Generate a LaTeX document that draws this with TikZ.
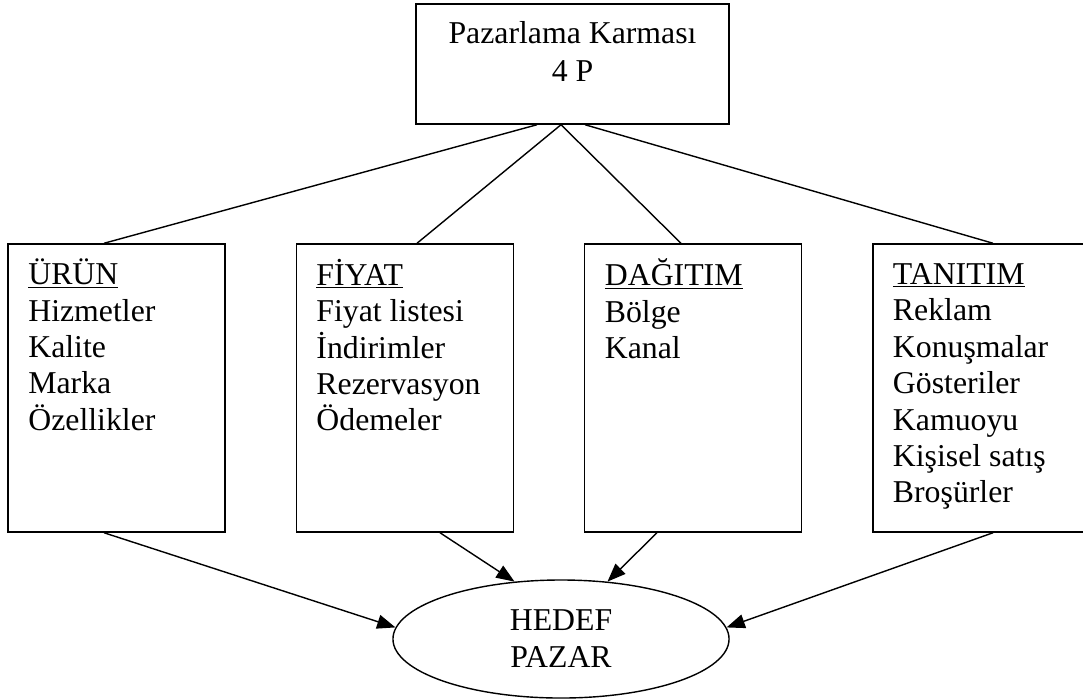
\documentclass[tikz,border=0pt]{standalone}
\usepackage{fontspec}
\setmainfont{Liberation Serif}
\usetikzlibrary{arrows.meta, shapes.geometric}

\begin{document}
\begin{tikzpicture}[x=0.025cm, y=-0.025cm,
      b/.style={draw, line width=1pt, minimum width=5.425cm, minimum height=7.2cm, inner sep=0pt},
      lst/.style={anchor=north west, align=left, inner sep=0pt, font=\fontsize{22.6}{25.9}\selectfont},
      ln/.style={line width=1pt},
      ar/.style={ln, -{Triangle[length=13pt, width=10pt]}}
    ]
    \useasboundingbox (0,0) rectangle (1083,699);

    % ust kutu
    \node[draw, line width=1pt, minimum width=7.825cm, minimum height=3cm, inner sep=0pt] (pk) at (572.5,64) {};
    \node[anchor=north, align=center, inner sep=0pt, font=\fontsize{22.6}{27}\selectfont]
      (pkT) at ([yshift=-0.33cm]pk.north) {\strut Pazarlama Karması\\4 P};

    % 4 P kutulari
    \node[b] (urun)    at (116.5,388) {};
    \node[b] (fiyat)   at (405,388)   {};
    \node[b] (dagitim) at (693,388)   {};
    \node[b] (tanitim) at (981.5,388) {};

    \node[lst] (urunT)    at ([xshift=0.52cm, yshift=-0.385cm]urun.north west)
      {\strut\underline{ÜRÜN}\\Hizmetler\\Kalite\\Marka\\Özellikler};
    \node[lst] (fiyatT)   at ([xshift=0.51cm, yshift=-0.385cm]fiyat.north west)
      {\strut\underline{FİYAT}\\Fiyat listesi\\İndirimler\\Rezervasyon\\Ödemeler};
    \node[lst] (dagitimT) at ([xshift=0.52cm, yshift=-0.385cm]dagitim.north west)
      {\strut\underline{DAĞITIM}\\Bölge\\Kanal};
    \node[lst] (tanitimT) at ([xshift=0.51cm, yshift=-0.385cm]tanitim.north west)
      {\strut\underline{TANITIM}\\Reklam\\Konuşmalar\\Gösteriler\\Kamuoyu\\Kişisel satış\\Broşürler};

    % hedef
    \node[draw, ellipse, line width=1pt, minimum width=8.4cm, minimum height=2.95cm, inner sep=0pt,
          align=center, font=\fontsize{22.6}{26.4}\selectfont] (hedef) at (561,639) {HEDEF\\PAZAR};

    \draw[ln] ([xshift=-0.8875cm]pk.south) -- ([xshift=-0.3125cm]urun.north);
    \draw[ln] ([xshift=-0.2875cm]pk.south) -- ([xshift=0.3cm]fiyat.north);
    \draw[ln] ([xshift=-0.2875cm]pk.south) -- ([xshift=-0.3cm]dagitim.north);
    \draw[ln] ([xshift=0.3125cm]pk.south)  -- ([xshift=0.2875cm]tanitim.north);

    \draw[ar] ([xshift=-0.3125cm]urun.south)   -- (hedef.176);
    \draw[ar] ([xshift=0.875cm]fiyat.south)    -- (hedef.129);
    \draw[ar] ([xshift=-0.9cm]dagitim.south)   -- (hedef.51);
    \draw[ar] ([xshift=0.2875cm]tanitim.south) -- (hedef.4);
  \end{tikzpicture}
\end{document}
